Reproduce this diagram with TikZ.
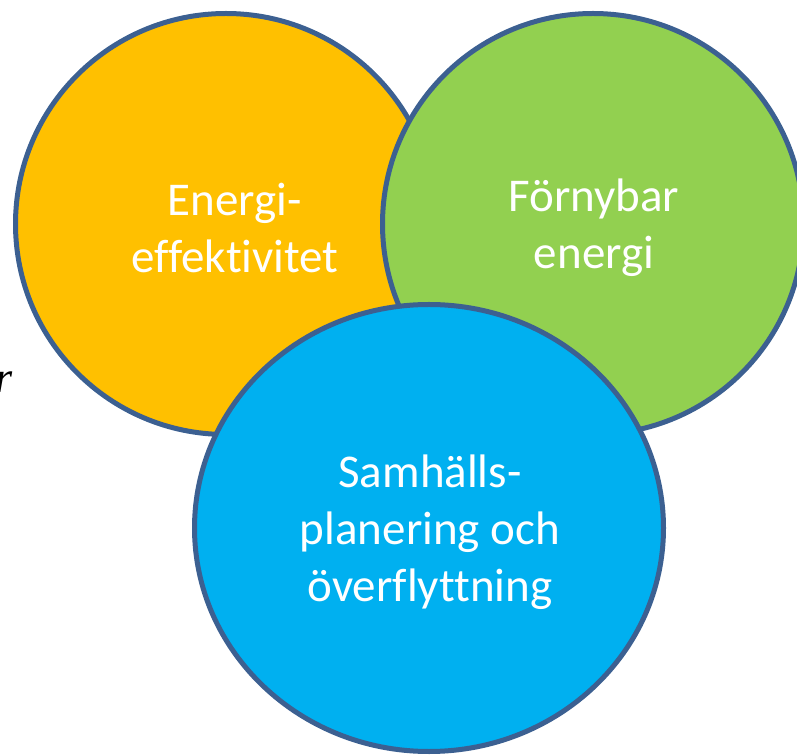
\documentclass[tikz,border=0pt]{standalone}
\usepackage{fontspec}
\newfontfamily\calibri[Ligatures=NoCommon]{Carlito}
\newfontfamily\timesfont{Liberation Serif}
\usetikzlibrary{positioning,shapes.geometric}

\begin{document}
\begin{tikzpicture}[x=1pt,y=1pt,
  ring/.style={draw=rim,line width=5pt,inner sep=0pt,align=center,text=white,
    font=\calibri\fontsize{47}{57}\selectfont},
  stray/.style={font=\timesfont\itshape\fontsize{44}{44}\selectfont,inner sep=0pt}]
\definecolor{rim}{RGB}{60,96,145}
\definecolor{energy}{RGB}{255,192,0}
\definecolor{renew}{RGB}{146,208,80}
\definecolor{plan}{RGB}{0,176,240}
\useasboundingbox (0,0) rectangle (797,755);
% three overlapping circles, blue on top
\node [ring,circle,fill=energy,minimum size=421pt] (E) at (226,531) {};
\node [ring,circle,fill=renew,minimum size=421pt] (F) at (593,531) {};
\node [ring,ellipse,fill=plan,minimum width=469pt,minimum height=447pt] (S) at (429,227) {};
% labels
\node [ring,draw=none] (Etext) at (235,527) {Energi-\\effektivitet};
\node [ring,draw=none] (Ftext) at (594,527) {Förnybar\\energi};
\node [ring,draw=none] (Stext) at (430,223) {Samhälls-\\planering och\\överflyttning};
% cut-off text at the left edge
\node [stray,anchor=base west] (r) at (-5,362) {r};
\node [stray,anchor=base west] (dot) at (-7,215) {.};
\end{tikzpicture}
\end{document}
